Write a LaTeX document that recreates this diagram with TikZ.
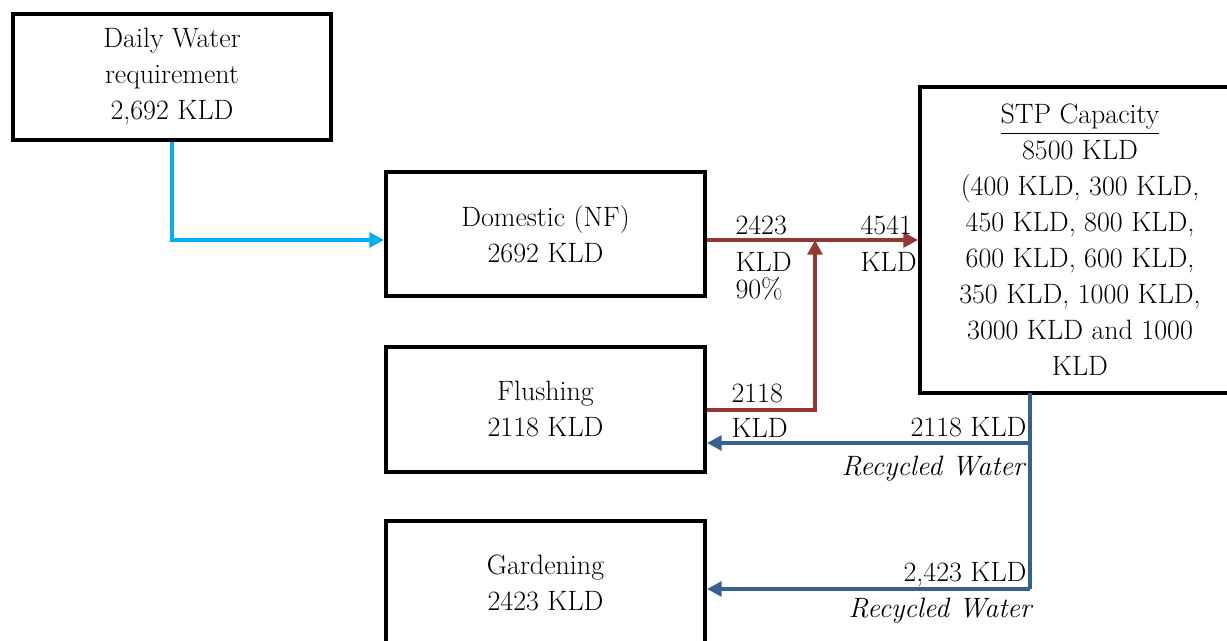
\documentclass[tikz,border=0pt]{standalone}
\usepackage{amsmath}
\usepackage{color}
\usepackage{tikz}
\usetikzlibrary{arrows.meta}
\tikzset{every picture/.style={line width=0.75pt}}
\definecolor{flowcyan}{RGB}{0,176,240}
\definecolor{flowred}{RGB}{150,55,53}
\definecolor{flowblue}{RGB}{55,96,146}
\tikzset{
  blockbox/.style={draw, line width=3pt, align=center, inner sep=0pt,
    font=\fontsize{21}{27}\selectfont},
  flowlabel/.style={inner sep=0pt, font=\fontsize{21}{27}\selectfont},
  cyanflow/.style={draw=flowcyan, line width=3pt, -{Triangle[length=11pt,width=11pt]}},
  redflow/.style={draw=flowred, line width=3pt, -{Triangle[length=11pt,width=11pt]}},
  blueflow/.style={draw=flowblue, line width=3pt, -{Triangle[length=11pt,width=11pt]}}
}

\begin{document}
\begin{tikzpicture}[x=0.75pt,y=0.75pt,yscale=-1,xscale=1]
	\useasboundingbox (0,0) rectangle (1227,641);
	\clip (0,0) rectangle (1227,641);
	
	%Shape: Rectangle
	\node [blockbox, minimum width=318*0.75pt, minimum height=126*0.75pt] (daily) at (172,77) {Daily Water\\requirement\\2,692 KLD};
	%Shape: Rectangle
	\node [blockbox, minimum width=319*0.75pt, minimum height=124*0.75pt] (dom) at (545.5,234) {Domestic (NF)\\2692 KLD};
	%Shape: Rectangle
	\node [blockbox, minimum width=319*0.75pt, minimum height=125*0.75pt] (flush) at (545.5,409.5) {Flushing\\2118 KLD};
	%Shape: Rectangle
	\node [blockbox, minimum width=319*0.75pt, minimum height=124*0.75pt] (garden) at (545.5,583) {Gardening\\2423 KLD};
	%Shape: Rectangle
	\node [blockbox, minimum width=320*0.75pt, minimum height=306*0.75pt] (stp) at (1080,240) {\underline{STP Capacity}\\8500 KLD\\(400 KLD, 300 KLD,\\450 KLD, 800 KLD,\\600 KLD, 600 KLD,\\350 KLD, 1000 KLD,\\3000 KLD and 1000\\KLD};
	
	% junction points
	\coordinate (redjoin) at (815,240);
	\coordinate (stpout) at (1030,393);
	\coordinate (recflush) at (1030,443);
	\coordinate (recgarden) at (1030,589);
	
	%Straight Lines
	\draw [cyanflow] (daily.south) |- ([yshift=4.5pt]dom.west);
	%Straight Lines
	\draw [redflow] ([yshift=4.5pt]dom.east) -- (stp.west);
	%Straight Lines
	\draw [redflow] (flush.east) -| (redjoin);
	%Straight Lines
	\draw [draw=flowblue, line width=3pt] (stpout) -- (recgarden);
	\draw [blueflow] (recflush) -- (flush.east |- recflush);
	\draw [blueflow] (recgarden) -- (garden.east |- recgarden);
	
	% Text Node
	\node [flowlabel, anchor=west] (dompct) at (735,225) {2423};
	\node [flowlabel, anchor=west] (domkld) at (735,262) {KLD};
	\node [flowlabel, anchor=west] (domninety) at (735,289) {90\%};
	% Text Node
	\node [flowlabel, anchor=west] (stpin) at (860,225) {4541};
	\node [flowlabel, anchor=west] (stpinkld) at (860,262) {KLD};
	% Text Node
	\node [flowlabel, anchor=west] (flushout) at (731,393) {2118};
	\node [flowlabel, anchor=west] (flushoutkld) at (731,428) {KLD};
	% Text Node
	\node [flowlabel, anchor=east] (recone) at (1027,427) {2118 KLD};
	\node [flowlabel, anchor=east] (reconetxt) at (1025,469) {\itshape Recycled Water};
	% Text Node
	\node [flowlabel, anchor=east] (rectwo) at (1027,575) {2,423 KLD};
	\node [flowlabel, anchor=east] (rectwotxt) at (1032,611) {\itshape Recycled Water};
	
\end{tikzpicture}
\end{document}
